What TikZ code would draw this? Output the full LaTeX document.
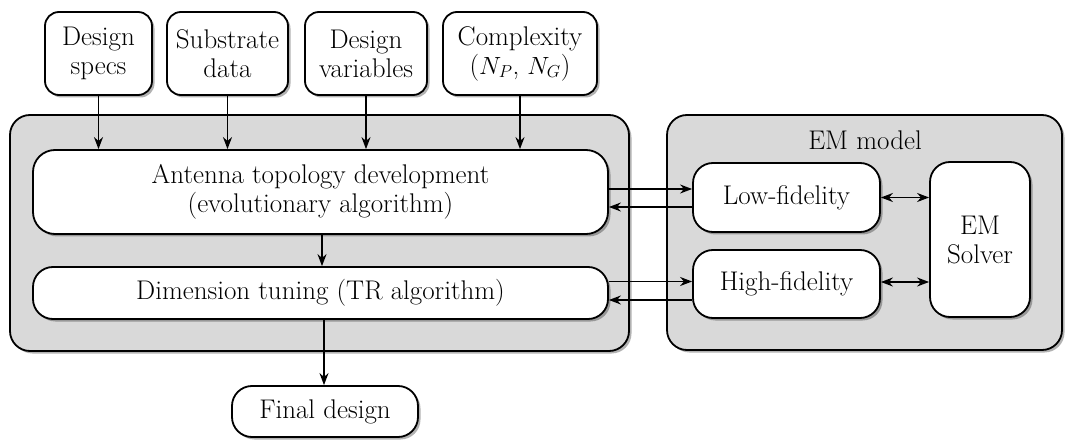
\documentclass[tikz,border=0pt]{standalone}
\usetikzlibrary{arrows.meta,shadows}
\begin{document}
\begin{tikzpicture}[x=1pt,y=-1pt,
  shd/.style={drop shadow={shadow xshift=2.5pt,shadow yshift=-2.5pt,opacity=0.3,fill=black}},
  txt/.style={font=\rmfamily\fontsize{27}{29}\selectfont},
  inbox/.style={draw=black,line width=1.8pt,fill=white,rounded corners=16pt,align=center,
    txt,inner sep=0pt,shd},
  container/.style={draw=black,line width=1.8pt,fill=black!15,rounded corners=20pt,inner sep=0pt,shd},
  arr/.style={line width=1.6pt,-{Stealth[length=12pt,width=9pt]}},
  darr/.style={line width=1.6pt,{Stealth[length=12pt,width=9pt]}-{Stealth[length=12pt,width=9pt]}}]
\useasboundingbox (0,0) rectangle (1072,441);
% containers
\node[container,minimum width=619pt,minimum height=236pt] (left) at (319.5,233) {};
\node[container,minimum width=395pt,minimum height=235pt] (em) at (864.5,232.5) {};
\node[txt] (emlabel) at (865,140) {EM model};
% top inputs
\node[inbox,rounded corners=14pt,minimum width=107pt,minimum height=83pt] (ds) at (98.5,53.5) {Design\\specs};
\node[inbox,rounded corners=14pt,minimum width=121pt,minimum height=83pt] (sd) at (227.5,53.5) {Substrate\\data};
\node[inbox,rounded corners=14pt,minimum width=122pt,minimum height=83pt] (dv) at (366,53.5) {Design\\variables};
\node[inbox,rounded corners=14pt,minimum width=154pt,minimum height=83pt] (cx) at (520,53.5) {Complexity\\($N_P$, $N_G$)};
% main blocks
\node[inbox,rounded corners=22pt,minimum width=575pt,minimum height=84pt] (atd) at (320.5,192) {Antenna topology development\\(evolutionary algorithm)};
\node[inbox,rounded corners=20pt,minimum width=575pt,minimum height=52pt] (dt) at (320.5,293) {Dimension tuning (TR algorithm)};
\node[inbox,rounded corners=20pt,minimum width=186pt,minimum height=51pt] (fd) at (325,411.5) {Final design};
% EM model blocks
\node[inbox,rounded corners=20pt,minimum width=187pt,minimum height=69pt] (lf) at (786.5,197.5) {Low-fidelity};
\node[inbox,rounded corners=20pt,minimum width=187pt,minimum height=68pt] (hf) at (786.5,284) {High-fidelity};
\node[inbox,rounded corners=20pt,minimum width=100pt,minimum height=155pt] (sol) at (980,239.5) {EM\\Solver};
% input arrows
\draw[arr] (ds.south) -- (ds.south |- atd.north);
\draw[arr] (sd.south) -- (sd.south |- atd.north);
\draw[arr] (dv.south) -- (dv.south |- atd.north);
\draw[arr] (cx.south) -- (cx.south |- atd.north);
% vertical flow
\draw[arr] ([xshift=1.5pt]atd.south) -- ([xshift=1.5pt]dt.north);
\draw[arr] ([xshift=3.5pt]dt.south) -- ([xshift=3.5pt]dt.south |- fd.north);
% links to EM model
\coordinate (l1) at ([yshift=8.5pt]lf.west);
\coordinate (l2) at ([yshift=-9.5pt]lf.west);
\coordinate (h1) at ([yshift=2.5pt]hf.west);
\coordinate (h2) at ([yshift=-16pt]hf.west);
\draw[arr] (l1 -| atd.east) -- (l1);
\draw[arr] (l2) -- (l2 -| atd.east);
\draw[arr] (h1 -| dt.east) -- (h1);
\draw[arr] (h2) -- (h2 -| dt.east);
% solver links
\draw[darr] (lf.east) -- (lf.east -| sol.west);
\draw[darr] ([yshift=2pt]hf.east) -- ([yshift=2pt]hf.east -| sol.west);
\end{tikzpicture}
\end{document}
